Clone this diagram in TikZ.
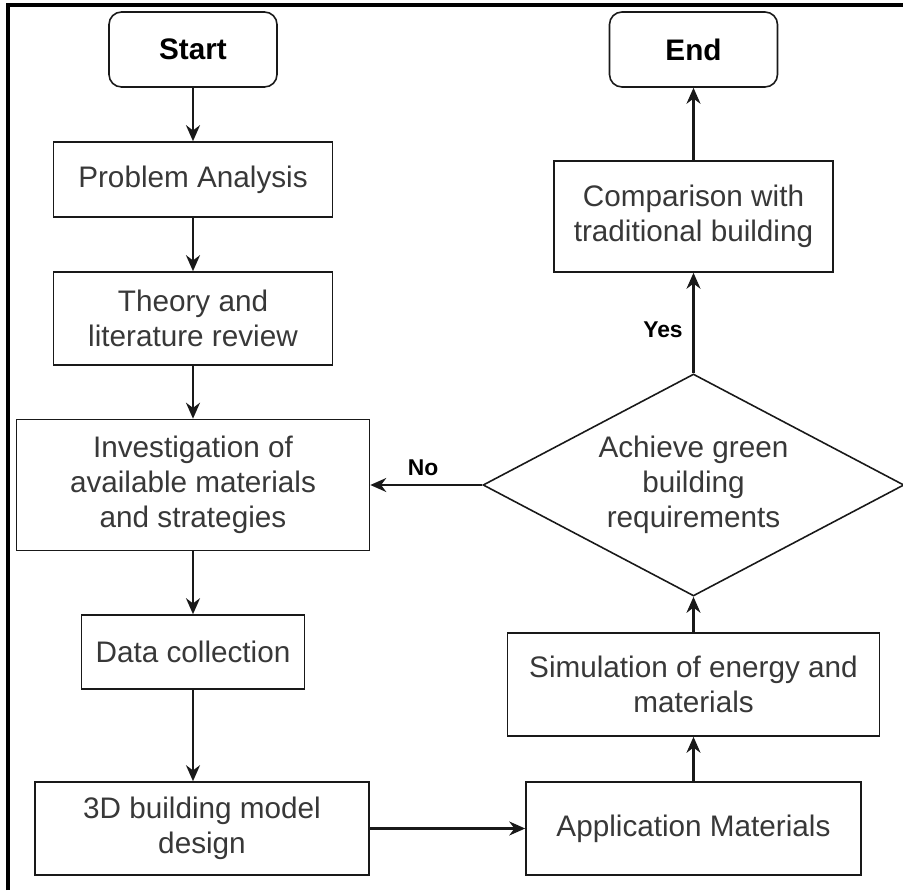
\documentclass[tikz,border=0pt]{standalone}
\usepackage{fontspec}
\setmainfont{Liberation Sans}
\usetikzlibrary{shapes.geometric,arrows.meta}

\begin{document}
\begin{tikzpicture}[
		line width=0.9pt,
		every node/.style={rectangle, draw=black!90, align=center, inner sep=2pt, text=black!78, font=\fontsize{16.9}{19.8}\selectfont},
		term/.style={rounded corners=0.25cm, minimum width=3.36cm, minimum height=1.5cm, text=black, font=\fontsize{16.9}{19.8}\selectfont\bfseries},
		decision/.style={diamond, aspect=1.9, minimum width=8.42cm, minimum height=4.44cm, inner sep=0pt},
		answer/.style={draw=none, text=black, font=\fontsize{13}{15}\selectfont\bfseries},
		flow/.style={-{Stealth[length=3.2mm, width=2.8mm]}, line width=1.3pt, black!90}
	]
  \useasboundingbox (0cm, 0cm) rectangle (18.06cm, 17.8cm);
  \draw[line width=1.8pt] (0.16cm, 0cm) -- (0.16cm, 17.7cm) -- (18.06cm, 17.7cm);

  % left column
  \node (start) [term] at (3.86cm, 16.81cm) {Start};
  \node (problem) [minimum width=5.58cm, minimum height=1.5cm] at (3.86cm, 14.21cm) {Problem Analysis};
  \node (theory) [minimum width=5.58cm, minimum height=1.86cm] at (3.86cm, 11.43cm) {Theory and\\literature review};
  \node (invest) [minimum width=7.06cm, minimum height=2.62cm] at (3.86cm, 8.1cm) {Investigation of\\available materials\\and strategies};
  \node (data) [minimum width=4.46cm, minimum height=1.48cm] at (3.86cm, 4.76cm) {Data collection};
  \node (model) [minimum width=6.68cm, minimum height=1.86cm] at (4.04cm, 1.23cm) {3D building model\\design};

  % right column
  \node (app) [minimum width=6.7cm, minimum height=1.86cm] at (13.87cm, 1.23cm) {Application Materials};
  \node (sim) [minimum width=7.44cm, minimum height=2.06cm] at (13.87cm, 4.11cm) {Simulation of energy and\\materials};
  \node (green) [decision] at (13.87cm, 8.1cm) {Achieve green\\building\\requirements};
  \node (compare) [minimum width=5.58cm, minimum height=2.22cm] at (13.87cm, 13.47cm) {Comparison with\\traditional building};
  \node (finish) [term] at (13.87cm, 16.81cm) {End};

  \node (yes_label) [answer] at (13.26cm, 11.2cm) {Yes};
  \node (no_label) [answer] at (8.46cm, 8.44cm) {No};

  \draw (start) edge[flow] (problem);
  \draw (problem) edge[flow] (theory);
  \draw (theory) edge[flow] (invest);
  \draw (invest) edge[flow] (data);
  \draw[flow] (data) -- (data |- model.north);
  \draw (model) edge[flow] (app);
  \draw (app) edge[flow] (sim);
  \draw (sim) edge[flow] (green);
  \draw (green) edge[flow] (compare);
  \draw (compare) edge[flow] (finish);
  \draw (green) edge[flow] (invest);
\end{tikzpicture}
\end{document}
